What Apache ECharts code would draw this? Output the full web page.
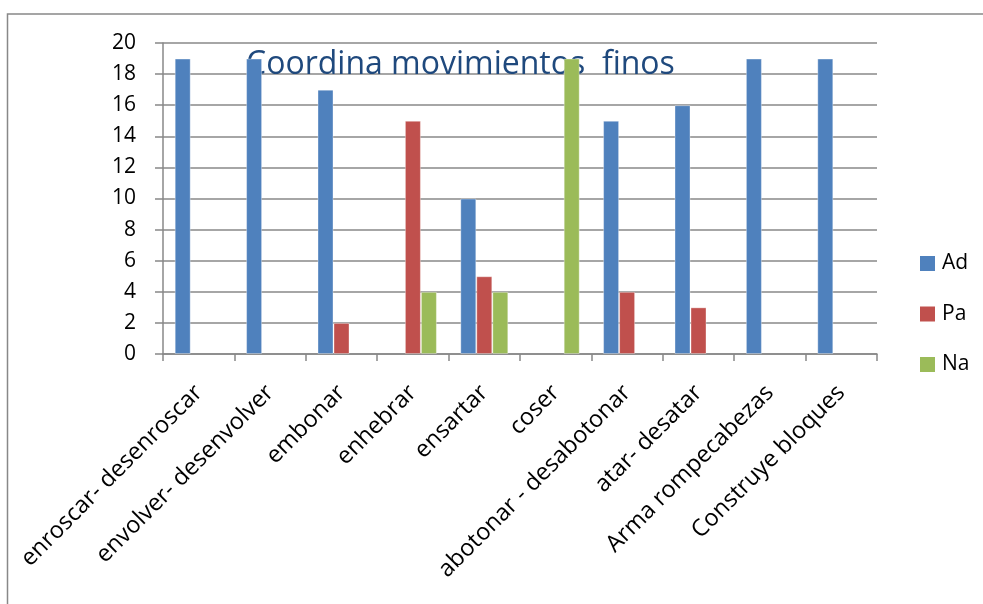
<!DOCTYPE html>
<html><head><meta charset="utf-8">
<script src="https://cdn.jsdelivr.net/npm/echarts@6/dist/echarts.min.js"></script>
<style>html,body{margin:0;padding:0;background:#fff}#c{width:983px;height:604px}</style>
</head><body><div id="c"></div>
<script>
const categories = ["enroscar- desenroscar","envolver- desenvolver","embonar","enhebrar","ensartar","coser","abotonar - desabotonar","atar- desatar","Arma rompecabezas","Construye bloques"];
const seriesNames = ["Ad","Pa","Na"];
const adValues = [19,19,17,0,10,0,15,16,19,19];
const paValues = [0,0,2,15,5,0,4,3,0,0];
const naValues = [0,0,0,4,4,19,0,0,0,0];
const yTicks = {min:0, max:20, interval:2};
const titleText = "Coordina movimientos  finos";

const FONT = "Open Sans";
const colors = ["#4F81BD","#C0504D","#9BBB59"];
const chart = echarts.init(document.getElementById('c'), null, {renderer:'canvas'});
const mk = (name, data, i) => ({
  name, type:'bar', data: data.map(v => v === 0 ? null : v), barWidth:16,
  barGap:'0%', z:3,
  itemStyle:{color:colors[i], borderColor:'rgba(255,255,255,0.35)', borderWidth:1}
});
chart.setOption({
  animation:false,
  textStyle:{fontFamily:FONT},
  title:{text:titleText, left:246, top:49, z:1, zlevel:0, padding:0,
    textStyle:{fontFamily:FONT, fontSize:32, fontWeight:'normal', color:'#1F497D', lineHeight:32}},
  graphic:[{type:'rect', z:-10, shape:{x:7.5, y:14, width:1000, height:700},
    style:{fill:'none', stroke:'#888', lineWidth:1.5}, silent:true}],
  legend:{orient:'vertical', left:920, top:253, itemWidth:15, itemHeight:15, itemGap:29.5, padding:0,
    icon:'rect', data:seriesNames, itemStyle:{borderWidth:0},
    textStyle:{fontFamily:FONT, fontSize:21, color:'#000', padding:[0,0,0,2]}},
  grid:{left:163, right:983-877, top:43, bottom:604-354, containLabel:false},
  xAxis:{type:'category', data:categories,
    axisLine:{lineStyle:{color:'#888', width:1.5}},
    axisTick:{show:true, length:7, lineStyle:{color:'#888', width:1.5}},
    axisLabel:{rotate:45, fontFamily:FONT, fontSize:23.5, color:'#000', margin:35, interval:0}},
  yAxis:{type:'value', min:yTicks.min, max:yTicks.max, interval:yTicks.interval,
    axisLine:{show:true, lineStyle:{color:'#888', width:1.5}},
    axisTick:{show:true, length:8, lineStyle:{color:'#888', width:1.5}},
    splitLine:{lineStyle:{color:'#888', width:1.5}},
    axisLabel:{fontFamily:FONT, fontSize:21, color:'#000', margin:27}},
  series:[mk(seriesNames[0], adValues, 0), mk(seriesNames[1], paValues, 1), mk(seriesNames[2], naValues, 2)]
});
</script></body></html>
